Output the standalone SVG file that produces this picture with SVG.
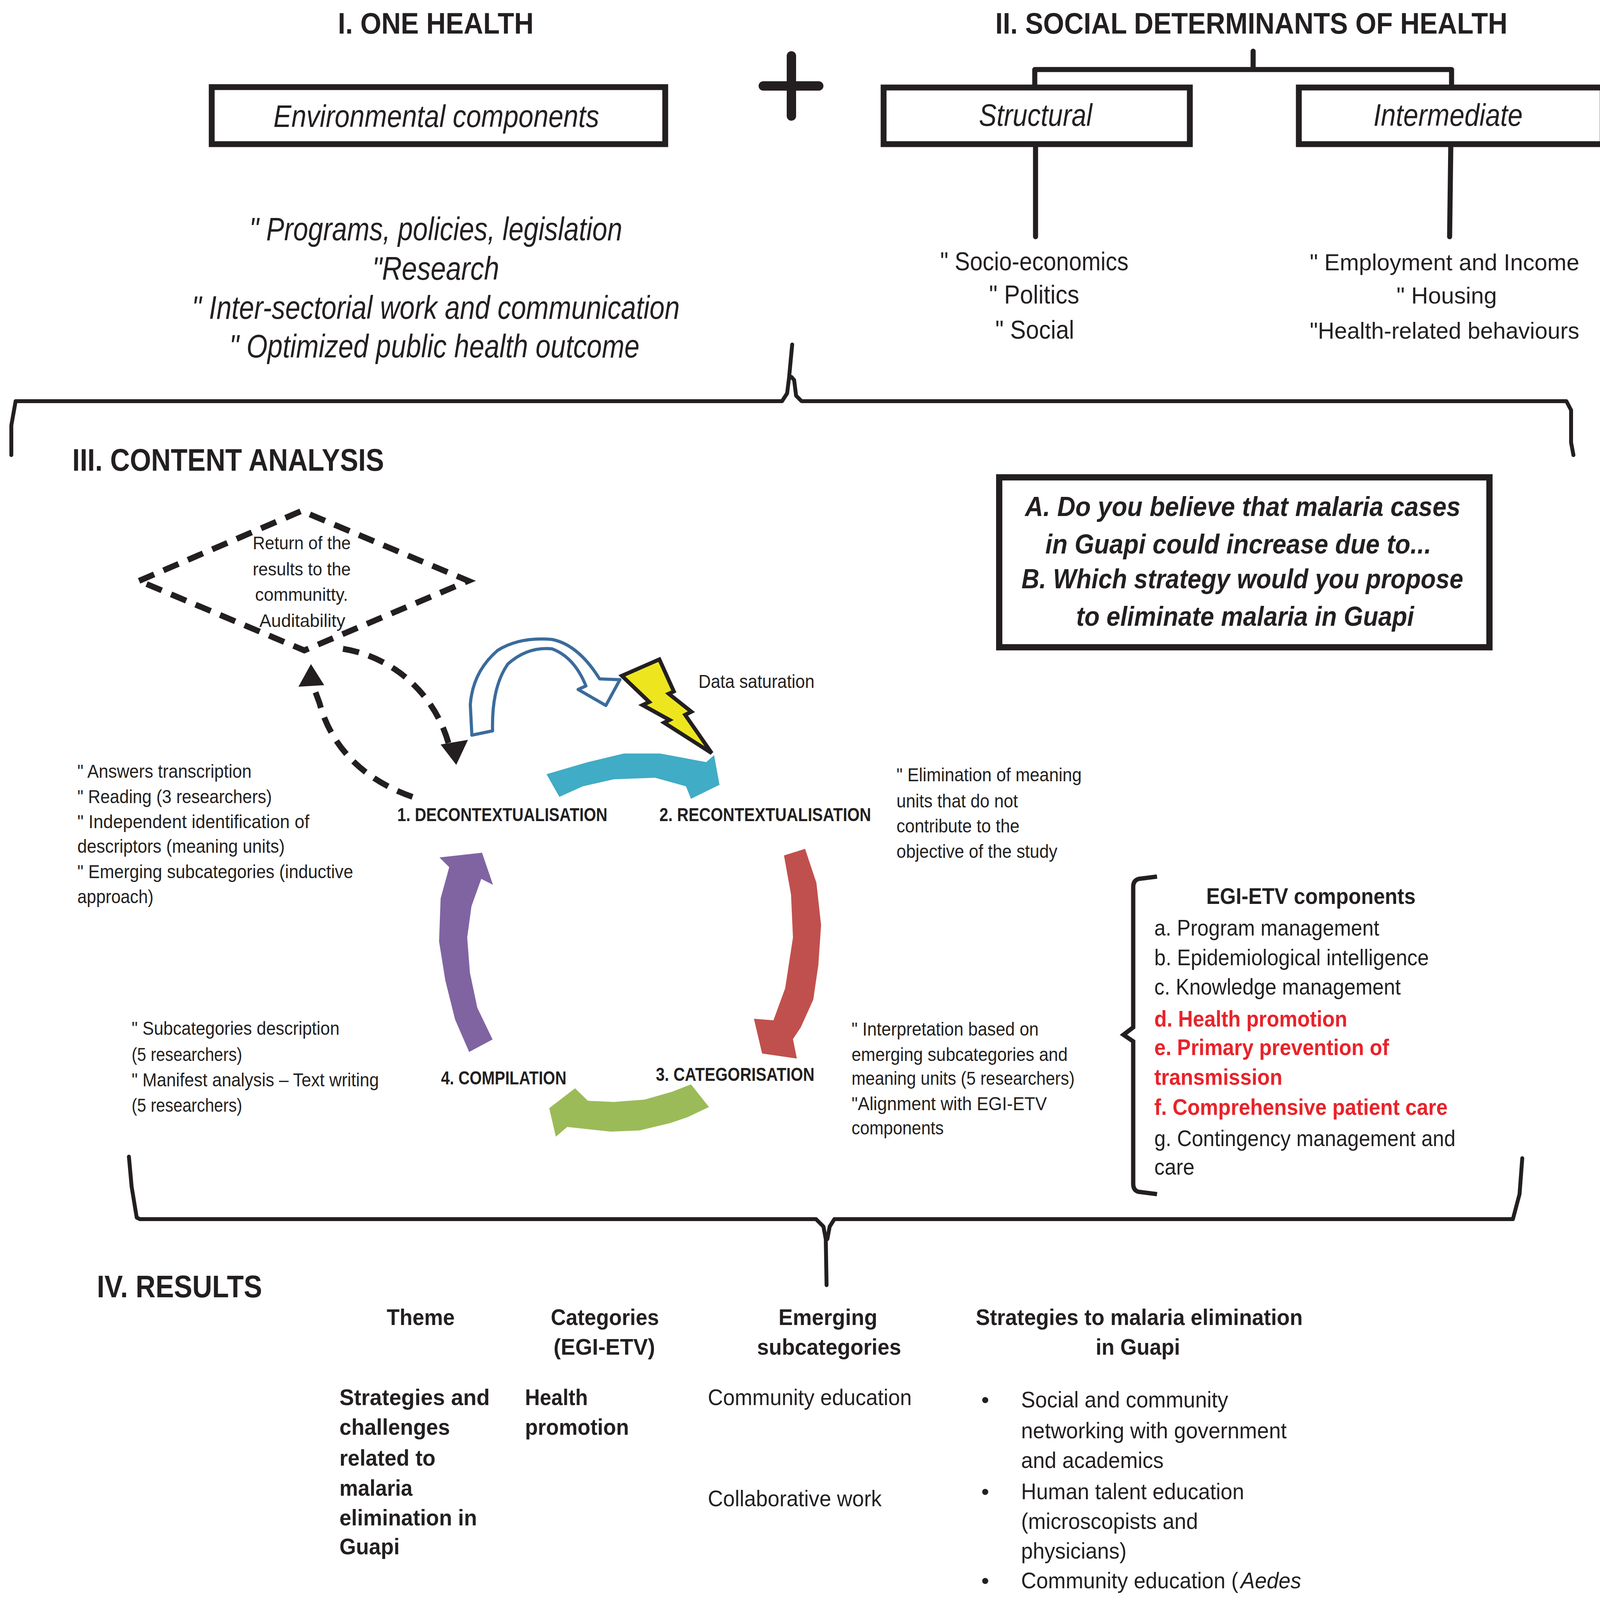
<svg xmlns="http://www.w3.org/2000/svg" width="4140" height="5873" viewBox="0 0 4140 5873">
<style>
text{font-family:"Liberation Sans",Arial,sans-serif;fill:#231f20}
.b{font-weight:bold}
.i{font-style:italic}
.red{fill:#e8232a}
.h1{font-size:76px;font-weight:bold}
.h2{font-size:80px;font-weight:bold}
.bx{font-size:80px;font-style:italic}
.oh{font-size:84px;font-style:italic}
.sd{font-size:66px}
.sr{font-size:60px}
.q{font-size:71px;font-weight:bold;font-style:italic}
.dm{font-size:46px}
.st{font-size:48px;font-weight:bold}
.sm{font-size:48px}
.eg{font-size:58px}
.tb{font-size:58px}
.box{fill:none;stroke:#231f20;stroke-width:15}
.ln{fill:none;stroke:#231f20;stroke-width:13;stroke-linecap:round;stroke-linejoin:round}
.br{fill:none;stroke:#231f20;stroke-width:10;stroke-linejoin:round;stroke-linecap:round}
.tl{fill:none;stroke:#231f20;stroke-width:5}
.dash{fill:none;stroke:#231f20;stroke-width:15;stroke-dasharray:42 26}
</style>

<g id="one-health">
<text class="h1" x="865" y="86" textLength="501" lengthAdjust="spacingAndGlyphs">I. ONE HEALTH</text>
<rect class="box" x="542" y="223" width="1161" height="146"/>
<text class="bx" x="700" y="325" textLength="834" lengthAdjust="spacingAndGlyphs">Environmental components</text>
<text class="oh" x="638" y="615" textLength="955" lengthAdjust="spacingAndGlyphs">" Programs, policies, legislation</text>
<text class="oh" x="953" y="716" textLength="325" lengthAdjust="spacingAndGlyphs">"Research</text>
<text class="oh" x="491" y="816" textLength="1249" lengthAdjust="spacingAndGlyphs">" Inter-sectorial work and communication</text>
<text class="oh" x="587" y="915" textLength="1050" lengthAdjust="spacingAndGlyphs">" Optimized public health outcome</text>
</g>

<g id="plus">
<path d="M1954,220 H2096 M2026,143 V297" fill="none" stroke="#231f20" stroke-width="24" stroke-linecap="round"/>
</g>

<g id="social-determinants">
<text class="h1" x="2548" y="86" textLength="1311" lengthAdjust="spacingAndGlyphs">II. SOCIAL DETERMINANTS OF HEALTH</text>
<rect class="box" x="2262" y="224" width="784" height="145"/>
<text class="bx" x="2506" y="322" textLength="290" lengthAdjust="spacingAndGlyphs">Structural</text>
<rect class="box" x="3325" y="224" width="778" height="145"/>
<text class="bx" x="3516" y="322" textLength="382" lengthAdjust="spacingAndGlyphs">Intermediate</text>
<text class="sd" x="2407" y="692" textLength="482" lengthAdjust="spacingAndGlyphs">" Socio-economics</text>
<text class="sd" x="2532" y="777" textLength="231" lengthAdjust="spacingAndGlyphs">" Politics</text>
<text class="sd" x="2548" y="867" textLength="202" lengthAdjust="spacingAndGlyphs">" Social</text>
<text class="sr" x="3353" y="692" textLength="690" lengthAdjust="spacingAndGlyphs">" Employment and Income</text>
<text class="sr" x="3575" y="777" textLength="257" lengthAdjust="spacingAndGlyphs">" Housing</text>
<text class="sr" x="3353" y="867" textLength="690" lengthAdjust="spacingAndGlyphs">"Health-related behaviours</text>
</g>

<g id="connectors">
<path class="ln" d="M3208,131 V178 M2649,178 H3716 M2649,178 V217 M3716,178 V217 M2651,376 V606 M3714,376 L3711,606"/>
<path class="br" d="M29,1165 L29,1089 L40,1027 L2002,1027 L2015,1007 L2020,967 L2028,882 M2052,1027 L2038,1013 L2033,973 L2026,965 M2052,1027 L4010,1027 L4022,1050 L4022,1133 L4028,1165"/>
<path class="br" d="M330,2961 L337,3038 L350,3117 L358,3121 L2089,3121 L2108,3140 L2114,3172 L2116,3290 M2136,3121 L2124,3140 L2118,3172 M2136,3121 L3873,3121 L3890,3057 L3897,2965"/>
<path class="dash" d="M1056,2040 C940,2000 850,1920 818,1800 L804,1762"/>
<polygon points="796,1700 764,1758 830,1754" fill="#231f20"/>
<path class="dash" d="M878,1661 C1000,1680 1110,1770 1148,1902"/>
<polygon points="1168,1958 1128,1906 1198,1894" fill="#231f20"/>
<path d="M1208,1882 L1204,1804 Q1210,1720 1274,1665 Q1330,1630 1413,1637 Q1480,1650 1535,1738 L1587,1740 L1551,1806 L1480,1765 L1500,1756 Q1470,1682 1413,1661 Q1350,1655 1300,1700 Q1258,1760 1261,1871 Z" fill="#fff" stroke="#3b6b9c" stroke-width="8" stroke-linejoin="round"/>
<polygon points="1399,1982 1505,1951 1597,1929 1690,1929 1808,1951 1828,1933 1842,2009 1769,2045 1756,2013 1677,1991 1571,1995 1492,2013 1432,2040" fill="#41acc5"/>
<polygon points="2007,2190 2061,2173 2090,2260 2102,2368 2095,2470 2082,2559 2050,2630 2030,2660 2040,2710 1951,2697 1930,2608 1980,2612 2010,2530 2030,2400 2025,2290" fill="#c0504d"/>
<polygon points="1472,2786 1505,2818 1571,2821 1650,2815 1720,2795 1769,2776 1815,2834 1760,2860 1716,2875 1637,2894 1564,2897 1452,2885 1423,2910 1406,2837" fill="#9bbb59"/>
<polygon points="1234,2183 1262,2265 1232,2250 1207,2320 1196,2400 1203,2490 1222,2580 1261,2661 1201,2693 1165,2610 1140,2510 1124,2410 1128,2300 1150,2220 1125,2195" fill="#8064a2"/>
<polygon points="1592,1730 1688,1688 1725,1770 1712,1776 1770,1822 1754,1830 1822,1928 1700,1850 1714,1843 1645,1805 1662,1797" fill="#ede61f" stroke="#231f20" stroke-width="10" stroke-linejoin="miter"/>
</g>

<g id="content-analysis">
<text class="h2" x="185" y="1205" textLength="798" lengthAdjust="spacingAndGlyphs">III. CONTENT ANALYSIS</text>
</g>

<g id="question-box">
<rect x="2558" y="1222" width="1255" height="435" fill="none" stroke="#231f20" stroke-width="16"/>
<text class="q" x="2624" y="1321" textLength="1115" lengthAdjust="spacingAndGlyphs">A. Do you believe that malaria cases</text>
<text class="q" x="2676" y="1417" textLength="988" lengthAdjust="spacingAndGlyphs">in Guapi could increase due to...</text>
<text class="q" x="2615" y="1506" textLength="1131" lengthAdjust="spacingAndGlyphs">B. Which strategy would you propose</text>
<text class="q" x="2755" y="1602" textLength="865" lengthAdjust="spacingAndGlyphs">to eliminate malaria in Guapi</text>
</g>

<g id="return-diamond">
<polygon class="dash" points="356,1487 772,1308 1199,1487 779,1665"/>
<text class="dm" x="647" y="1406" textLength="251" lengthAdjust="spacingAndGlyphs">Return of the</text>
<text class="dm" x="647" y="1473" textLength="251" lengthAdjust="spacingAndGlyphs">results to the</text>
<text class="dm" x="653" y="1538" textLength="238" lengthAdjust="spacingAndGlyphs">communitty.</text>
<text class="dm" x="664" y="1605" textLength="220" lengthAdjust="spacingAndGlyphs">Auditability</text>
</g>

<g id="data-saturation">
<text class="sm" x="1788" y="1761" font-size="50" textLength="297" lengthAdjust="spacingAndGlyphs">Data saturation</text>
</g>

<g id="step1">
<text class="st" x="1017" y="2102" textLength="538" lengthAdjust="spacingAndGlyphs">1. DECONTEXTUALISATION</text>
<text class="sm" x="198" y="1991" textLength="446" lengthAdjust="spacingAndGlyphs">" Answers transcription</text>
<text class="sm" x="198" y="2056" textLength="498" lengthAdjust="spacingAndGlyphs">" Reading (3 researchers)</text>
<text class="sm" x="198" y="2120" textLength="594" lengthAdjust="spacingAndGlyphs">" Independent identification of</text>
<text class="sm" x="198" y="2183" textLength="531" lengthAdjust="spacingAndGlyphs">descriptors (meaning units)</text>
<text class="sm" x="198" y="2248" textLength="706" lengthAdjust="spacingAndGlyphs">" Emerging subcategories (inductive</text>
<text class="sm" x="198" y="2312" textLength="195" lengthAdjust="spacingAndGlyphs">approach)</text>
</g>

<g id="step2">
<text class="st" x="1688" y="2102" textLength="542" lengthAdjust="spacingAndGlyphs">2. RECONTEXTUALISATION</text>
<text class="sm" x="2295" y="2000" textLength="474" lengthAdjust="spacingAndGlyphs">" Elimination of meaning</text>
<text class="sm" x="2295" y="2067" textLength="311" lengthAdjust="spacingAndGlyphs">units that do not</text>
<text class="sm" x="2295" y="2131" textLength="315" lengthAdjust="spacingAndGlyphs">contribute to the</text>
<text class="sm" x="2295" y="2196" textLength="412" lengthAdjust="spacingAndGlyphs">objective of the study</text>
</g>

<g id="step3">
<text class="st" x="1679" y="2767" textLength="406" lengthAdjust="spacingAndGlyphs">3. CATEGORISATION</text>
<text class="sm" x="2180" y="2651" textLength="479" lengthAdjust="spacingAndGlyphs">" Interpretation based on</text>
<text class="sm" x="2180" y="2716" textLength="553" lengthAdjust="spacingAndGlyphs">emerging subcategories and</text>
<text class="sm" x="2180" y="2777" textLength="571" lengthAdjust="spacingAndGlyphs">meaning units (5 researchers)</text>
<text class="sm" x="2180" y="2842" textLength="500" lengthAdjust="spacingAndGlyphs">"Alignment with EGI-ETV</text>
<text class="sm" x="2180" y="2904" textLength="236" lengthAdjust="spacingAndGlyphs">components</text>
</g>

<g id="step4">
<text class="st" x="1129" y="2776" textLength="321" lengthAdjust="spacingAndGlyphs">4. COMPILATION</text>
<text class="sm" x="337" y="2649" textLength="532" lengthAdjust="spacingAndGlyphs">" Subcategories description</text>
<text class="sm" x="337" y="2716" textLength="283" lengthAdjust="spacingAndGlyphs">(5 researchers)</text>
<text class="sm" x="337" y="2781" textLength="633" lengthAdjust="spacingAndGlyphs">" Manifest analysis – Text writing</text>
<text class="sm" x="337" y="2846" textLength="283" lengthAdjust="spacingAndGlyphs">(5 researchers)</text>
</g>

<g id="egi-etv">
<path d="M2962,2244 L2915,2250 Q2901,2254 2901,2270 L2901,2630 L2876,2649 L2901,2666 L2901,3030 Q2901,3048 2915,3051 L2962,3057" fill="none" stroke="#231f20" stroke-width="11"/>
<text class="eg b" x="3088" y="2314" textLength="536" lengthAdjust="spacingAndGlyphs">EGI-ETV components</text>
<text class="eg" x="2955" y="2395" textLength="576" lengthAdjust="spacingAndGlyphs">a. Program management</text>
<text class="eg" x="2955" y="2471" textLength="703" lengthAdjust="spacingAndGlyphs">b. Epidemiological intelligence</text>
<text class="eg" x="2955" y="2546" textLength="631" lengthAdjust="spacingAndGlyphs">c. Knowledge management</text>
<text class="eg b red" x="2955" y="2628" textLength="494" lengthAdjust="spacingAndGlyphs">d. Health promotion</text>
<text class="eg b red" x="2955" y="2701" textLength="601" lengthAdjust="spacingAndGlyphs">e. Primary prevention of</text>
<text class="eg b red" x="2955" y="2777" textLength="328" lengthAdjust="spacingAndGlyphs">transmission</text>
<text class="eg b red" x="2955" y="2854" textLength="751" lengthAdjust="spacingAndGlyphs">f. Comprehensive patient care</text>
<text class="eg" x="2955" y="2934" textLength="771" lengthAdjust="spacingAndGlyphs">g. Contingency management and</text>
<text class="eg" x="2955" y="3007" textLength="103" lengthAdjust="spacingAndGlyphs">care</text>
</g>

<g id="results">
<text class="h2" x="248" y="3321" textLength="423" lengthAdjust="spacingAndGlyphs">IV. RESULTS</text>
<text class="tb b" x="990" y="3392" textLength="174" lengthAdjust="spacingAndGlyphs">Theme</text>
<text class="tb b" x="1410" y="3392" textLength="277" lengthAdjust="spacingAndGlyphs">Categories</text>
<text class="tb b" x="1417" y="3468" textLength="260" lengthAdjust="spacingAndGlyphs">(EGI-ETV)</text>
<text class="tb b" x="1993" y="3392" textLength="253" lengthAdjust="spacingAndGlyphs">Emerging</text>
<text class="tb b" x="1938" y="3468" textLength="369" lengthAdjust="spacingAndGlyphs">subcategories</text>
<text class="tb b" x="2498" y="3392" textLength="837" lengthAdjust="spacingAndGlyphs">Strategies to malaria elimination</text>
<text class="tb b" x="2805" y="3468" textLength="216" lengthAdjust="spacingAndGlyphs">in Guapi</text>

<text class="tb b" x="869" y="3597" textLength="385" lengthAdjust="spacingAndGlyphs">Strategies and</text>
<text class="tb b" x="869" y="3673" textLength="283" lengthAdjust="spacingAndGlyphs">challenges</text>
<text class="tb b" x="869" y="3752" textLength="246" lengthAdjust="spacingAndGlyphs">related to</text>
<text class="tb b" x="869" y="3829" textLength="187" lengthAdjust="spacingAndGlyphs">malaria</text>
<text class="tb b" x="869" y="3905" textLength="352" lengthAdjust="spacingAndGlyphs">elimination in</text>
<text class="tb b" x="869" y="3979" textLength="154" lengthAdjust="spacingAndGlyphs">Guapi</text>

<text class="tb b" x="1344" y="3597" textLength="161" lengthAdjust="spacingAndGlyphs">Health</text>
<text class="tb b" x="1344" y="3673" textLength="266" lengthAdjust="spacingAndGlyphs">promotion</text>
<text class="tb" x="1812" y="3597" textLength="522" lengthAdjust="spacingAndGlyphs">Community education</text>
<text class="tb" x="1812" y="3856" textLength="445" lengthAdjust="spacingAndGlyphs">Collaborative work</text>

<text class="tb" x="2512" y="3603">•</text>
<text class="tb" x="2614" y="3603" textLength="530" lengthAdjust="spacingAndGlyphs">Social and community</text>
<text class="tb" x="2614" y="3682" textLength="680" lengthAdjust="spacingAndGlyphs">networking with government</text>
<text class="tb" x="2614" y="3758" textLength="365" lengthAdjust="spacingAndGlyphs">and academics</text>
<text class="tb" x="2512" y="3838">•</text>
<text class="tb" x="2614" y="3838" textLength="571" lengthAdjust="spacingAndGlyphs">Human talent education</text>
<text class="tb" x="2614" y="3914" textLength="453" lengthAdjust="spacingAndGlyphs">(microscopists and</text>
<text class="tb" x="2614" y="3990" textLength="270" lengthAdjust="spacingAndGlyphs">physicians)</text>
<text class="tb" x="2512" y="4066">•</text>
<text class="tb" x="2614" y="4066" textLength="556" lengthAdjust="spacingAndGlyphs">Community education (</text>
<text class="tb i" x="3176" y="4066" textLength="155" lengthAdjust="spacingAndGlyphs">Aedes</text>
<text class="tb i" x="2614" y="4142" textLength="315" lengthAdjust="spacingAndGlyphs">&amp; Anopheles</text>
<text class="tb" x="2931" y="4142">)</text>
<text class="tb" x="2512" y="4231">•</text>
<text class="tb" x="2614" y="4231" textLength="662" lengthAdjust="spacingAndGlyphs">Education on solid residues</text>
<text class="tb" x="2614" y="4307" textLength="516" lengthAdjust="spacingAndGlyphs">and deposits of water</text>
<text class="tb" x="2512" y="4388">•</text>
<text class="tb" x="2614" y="4388" textLength="557" lengthAdjust="spacingAndGlyphs">Use and acceptance of</text>
<text class="tb" x="2614" y="4463" textLength="658" lengthAdjust="spacingAndGlyphs">awnings and residual spray</text>

<path class="tl" d="M1314,4513 H3370"/>

<text class="tb b" x="1344" y="4602" textLength="202" lengthAdjust="spacingAndGlyphs">Primary</text>
<text class="tb b" x="1344" y="4677" textLength="343" lengthAdjust="spacingAndGlyphs">prevention of</text>
<text class="tb b" x="1344" y="4749" textLength="335" lengthAdjust="spacingAndGlyphs">transmission</text>
<text class="tb" x="1812" y="4599" textLength="534" lengthAdjust="spacingAndGlyphs">Sanitations and public</text>
<text class="tb" x="1812" y="4677" textLength="199" lengthAdjust="spacingAndGlyphs">services</text>
<path class="tl" d="M1782,4771 H2458"/>
<text class="tb" x="1812" y="4858" textLength="335" lengthAdjust="spacingAndGlyphs">Vector control</text>
<path class="tl" d="M1782,5028 H2458"/>
<text class="tb" x="1812" y="5114" textLength="489" lengthAdjust="spacingAndGlyphs">Weather and natural</text>
<text class="tb" x="1812" y="5189" textLength="285" lengthAdjust="spacingAndGlyphs">phenomena</text>
<path class="tl" d="M1782,5283 H2458"/>
<text class="tb" x="1812" y="5372" textLength="484" lengthAdjust="spacingAndGlyphs">Individual protection</text>
<text class="tb" x="1812" y="5447" textLength="235" lengthAdjust="spacingAndGlyphs">measures</text>

<text class="tb" x="2508" y="4672">•</text>
<text class="tb" x="2611" y="4672" textLength="672" lengthAdjust="spacingAndGlyphs">Coverage and sustainability</text>
<text class="tb" x="2611" y="4750" textLength="386" lengthAdjust="spacingAndGlyphs">of ETV program</text>
<text class="tb" x="2508" y="4832">•</text>
<text class="tb" x="2611" y="4832" textLength="564" lengthAdjust="spacingAndGlyphs">Healthy domiciliary and</text>
<text class="tb" x="2611" y="4907" textLength="607" lengthAdjust="spacingAndGlyphs">community environments</text>
<text class="tb" x="2508" y="4987">•</text>
<text class="tb" x="2611" y="4987" textLength="474" lengthAdjust="spacingAndGlyphs">Active case search,</text>
<text class="tb" x="2611" y="5067" textLength="577" lengthAdjust="spacingAndGlyphs">notification and LLIN for</text>
<text class="tb" x="2611" y="5142" textLength="162" lengthAdjust="spacingAndGlyphs">miners</text>
<text class="tb" x="2508" y="5225">•</text>
<text class="tb" x="2611" y="5225" textLength="668" lengthAdjust="spacingAndGlyphs">Education on solid residues</text>
<text class="tb" x="2611" y="5302" textLength="519" lengthAdjust="spacingAndGlyphs">and deposits of water</text>
<text class="tb" x="2508" y="5382">•</text>
<text class="tb" x="2611" y="5382" textLength="564" lengthAdjust="spacingAndGlyphs">Use and acceptance of</text>
<text class="tb" x="2611" y="5457" textLength="663" lengthAdjust="spacingAndGlyphs">awnings and residual spray</text>

<path class="tl" d="M1314,5576 H3370"/>

<text class="tb b" x="1344" y="5659" textLength="410" lengthAdjust="spacingAndGlyphs">Comprehensive</text>
<text class="tb b" x="1344" y="5734" textLength="305" lengthAdjust="spacingAndGlyphs">patient care</text>
<text class="tb" x="1812" y="5659" textLength="577" lengthAdjust="spacingAndGlyphs">Case search, diagnosis,</text>
<text class="tb" x="1812" y="5734" textLength="335" lengthAdjust="spacingAndGlyphs">and treatment</text>
<text class="tb" x="2508" y="5692">•</text>
<text class="tb" x="2611" y="5692" textLength="685" lengthAdjust="spacingAndGlyphs">On-time consult if symptoms</text>
<text class="tb" x="2611" y="5767" textLength="275" lengthAdjust="spacingAndGlyphs">are present</text>

<path class="tl" d="M841,5842 H3370"/>
</g>
</svg>
